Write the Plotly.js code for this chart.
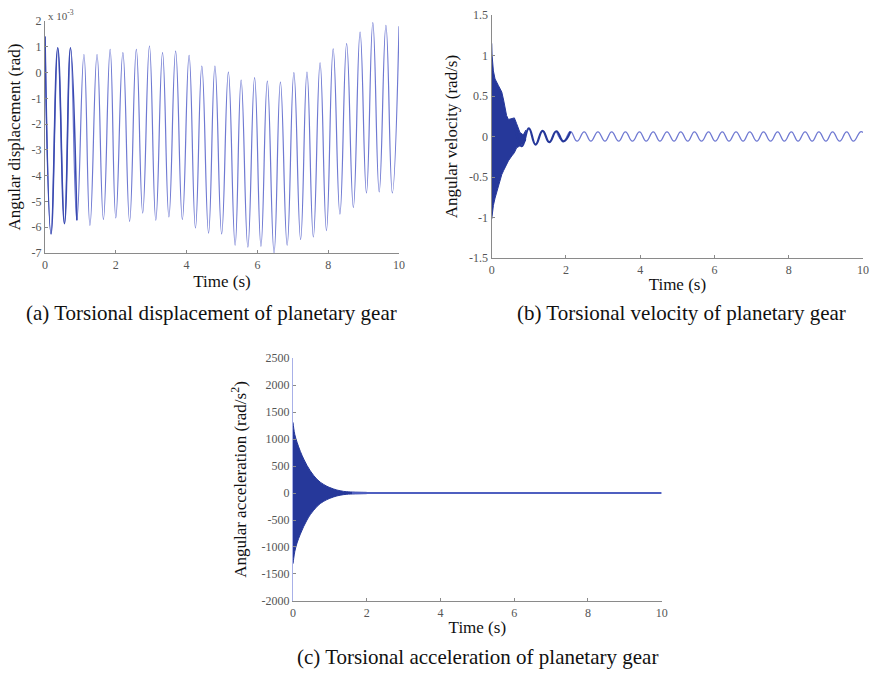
<!DOCTYPE html>
<html>
<head>
<meta charset="utf-8">
<script src="https://cdn.plot.ly/plotly-3.0.1.min.js"></script>
<style>
html,body{margin:0;padding:0;background:#fff;}
#chart{width:872px;height:673px;}
</style>
</head>
<body>
<div id="chart"></div>
<script>
// ---------- (a) angular displacement (x 1e-3 rad): peaks and troughs ----------
const dispT = [0.00, 0.17, 0.36, 0.55, 0.72, 0.90, 1.10, 1.27, 1.47, 1.65, 1.84, 2.00, 2.20, 2.39, 2.58, 2.76, 2.95, 3.13, 3.32, 3.50, 3.69, 3.88, 4.07, 4.25, 4.43, 4.62, 4.80, 4.99, 5.18, 5.37, 5.54, 5.73, 5.92, 6.10, 6.28, 6.47, 6.65, 6.84, 7.03, 7.22, 7.40, 7.58, 7.77, 7.95, 8.14, 8.33, 8.52, 8.71, 8.90, 9.08, 9.26, 9.44, 9.63, 9.81, 10.00];
const dispV = [1.40, -6.26, 0.96, -5.86, 0.96, -5.73, 0.70, -5.93, 0.70, -5.70, 0.90, -5.64, 0.77, -5.77, 0.90, -5.45, 1.03, -5.73, 0.77, -5.60, 0.83, -5.70, 0.67, -6.03, 0.25, -6.23, 0.25, -6.26, 0.02, -6.70, -0.29, -6.77, -0.20, -6.74, -0.33, -7.00, -0.37, -6.70, 0.00, -6.48, 0.02, -6.38, 0.38, -6.13, 0.92, -5.49, 1.12, -5.23, 1.57, -4.67, 1.94, -4.63, 1.83, -4.67, 1.80];

// ---------- (b) angular velocity (rad/s) ----------
// envelope of the dense high-frequency part
const velEnvT  = [0.00, 0.01, 0.045, 0.09, 0.18, 0.27, 0.32, 0.36, 0.40, 0.45, 0.54, 0.61, 0.67, 0.76, 0.85, 0.92];
const velEnvUp = [1.15, 1.00, 0.81, 0.71, 0.63, 0.55, 0.45, 0.37, 0.26, 0.21, 0.22, 0.23, 0.16, 0.05, 0.02, 0.08];
const velEnvLo = [-1.02, -0.98, -0.85, -0.76, -0.60, -0.47, -0.42, -0.38, -0.33, -0.30, -0.24, -0.20, -0.14, -0.11, -0.09, -0.04];
// low-frequency oscillation: peaks and troughs
const velT1 = [0.60, 0.81, 1.00, 1.18, 1.37, 1.55, 1.74, 1.93, 2.12];
const velV1 = [0.20, -0.12, 0.10, -0.10, 0.07, -0.07, 0.065, -0.06, 0.06];
const velT2 = [1.74, 1.93, 2.12, 2.30, 2.49, 2.67, 2.86, 3.05, 3.23, 3.42, 3.60, 3.79, 3.98, 4.16, 4.35, 4.53, 4.72, 4.91, 5.09, 5.28, 5.46, 5.65, 5.84, 6.02, 6.21, 6.39, 6.58, 6.77, 6.95, 7.14, 7.32, 7.51, 7.70, 7.88, 8.07, 8.25, 8.44, 8.63, 8.81, 9.00, 9.18, 9.37, 9.56, 9.74, 9.93, 10.00];
const velV2 = [0.065, -0.06, 0.06, -0.058, 0.058, -0.058, 0.058, -0.058, 0.058, -0.058, 0.058, -0.058, 0.058, -0.058, 0.058, -0.058, 0.058, -0.058, 0.058, -0.058, 0.058, -0.058, 0.058, -0.058, 0.058, -0.058, 0.058, -0.058, 0.058, -0.058, 0.058, -0.058, 0.058, -0.058, 0.058, -0.058, 0.058, -0.058, 0.058, -0.058, 0.058, -0.058, 0.058, -0.058, 0.058, 0.05];

// ---------- (c) angular acceleration (rad/s^2) ----------
const accT  = [0.00, 0.02, 0.05, 0.11, 0.20, 0.29, 0.38, 0.47, 0.56, 0.65, 0.74, 0.83, 0.92, 1.00, 1.10, 1.19, 1.28, 1.37, 1.46, 1.55, 1.70, 1.85, 2.00];
const accUp = [1310, 1200, 1080, 940, 770, 630, 510, 410, 325, 255, 200, 160, 125, 100, 75, 55, 42, 30, 24, 20, 16, 14, 12];
const accLo = [-1310, -1210, -1080, -925, -760, -620, -500, -400, -320, -250, -195, -155, -122, -98, -73, -54, -41, -30, -24, -20, -16, -14, -12];
const accTailT = [1.60, 10.00];
const accTailV = [0, 0];

// ---------- tick labels ----------
const timeTicks = [0, 2, 4, 6, 8, 10];
const timeTickText = ['0', '2', '4', '6', '8', '10'];
const dispTicks = [-7, -6, -5, -4, -3, -2, -1, 0, 1, 2];
const dispTickText = ['-7', '-6', '-5', '-4', '-3', '-2', '-1', '0', '1', '2'];
const velTicks = [-1.5, -1, -0.5, 0, 0.5, 1, 1.5];
const velTickText = ['-1.5', '-1', '-0.5', '0', '0.5', '1', '1.5'];
const accTicks = [-2000, -1500, -1000, -500, 0, 500, 1000, 1500, 2000, 2500];
const accTickText = ['-2000', '-1500', '-1000', '-500', '0', '500', '1000', '1500', '2000', '2500'];

const FONT = "'Liberation Serif', 'Times New Roman', serif";
const lightBlue = '#6f79d2';
const darkBlue = '#26389a';

const traces = [
  {x: dispT, y: dispV, xaxis: 'x', yaxis: 'y', mode: 'lines',
   line: {color: lightBlue, width: 1.2, shape: 'spline', smoothing: 1.3}},
  {x: dispT.slice(0, 6), y: dispV.slice(0, 6), xaxis: 'x', yaxis: 'y', mode: 'lines',
   line: {color: '#3a4ab0', width: 1.6, shape: 'spline', smoothing: 1.3}},

  {x: velEnvT, y: velEnvUp, xaxis: 'x2', yaxis: 'y2', mode: 'lines',
   line: {color: darkBlue, width: 1}},
  {x: velEnvT, y: velEnvLo, xaxis: 'x2', yaxis: 'y2', mode: 'lines', fill: 'tonexty',
   fillcolor: darkBlue, line: {color: darkBlue, width: 1}},
  {x: velT2, y: velV2, xaxis: 'x2', yaxis: 'y2', mode: 'lines',
   line: {color: lightBlue, width: 1.3, shape: 'spline', smoothing: 1.3}},
  {x: velT1, y: velV1, xaxis: 'x2', yaxis: 'y2', mode: 'lines',
   line: {color: darkBlue, width: 2.2, shape: 'spline', smoothing: 1.3}},

  {x: accT, y: accUp, xaxis: 'x3', yaxis: 'y3', mode: 'lines',
   line: {color: darkBlue, width: 1, shape: 'spline'}},
  {x: accT, y: accLo, xaxis: 'x3', yaxis: 'y3', mode: 'lines', fill: 'tonexty',
   fillcolor: darkBlue, line: {color: darkBlue, width: 1, shape: 'spline'}},
  {x: accTailT, y: accTailV, xaxis: 'x3', yaxis: 'y3', mode: 'lines',
   line: {color: '#4f5fc0', width: 1.8}}
];

function xax(domain, anchor, standoff) {
  return {
    domain: domain, anchor: anchor, range: [0, 10],
    tickvals: timeTicks, ticktext: timeTickText,
    showline: true, linecolor: '#8a8a8a', linewidth: 1.2,
    ticks: 'inside', ticklen: 3, tickcolor: '#8a8a8a',
    showgrid: false, zeroline: false,
    tickfont: {family: FONT, size: 12, color: '#555'},
    title: {text: 'Time (s)', font: {family: FONT, size: 17, color: '#111'}, standoff: standoff}
  };
}
function yax(domain, anchor, range, vals, text, title, standoff, lineColor) {
  return {
    domain: domain, anchor: anchor, range: range,
    tickvals: vals, ticktext: text,
    showline: true, linecolor: lineColor || '#8a8a8a', linewidth: 1.2,
    ticks: 'inside', ticklen: 3, tickcolor: '#8a8a8a',
    showgrid: false, zeroline: false,
    tickfont: {family: FONT, size: 12, color: '#555'},
    title: {text: title, font: {family: FONT, size: 17, color: '#111'}, standoff: standoff}
  };
}

const layout = {
  width: 872, height: 673,
  margin: {l: 0, r: 0, t: 0, b: 0},
  paper_bgcolor: '#fff', plot_bgcolor: '#fff',
  showlegend: false,
  font: {family: FONT},
  xaxis: xax([0.0516, 0.4576], 'y', 4),
  yaxis: yax([0.6241, 0.9688], 'x', [-7, 2], dispTicks, dispTickText, 'Angular displacement (rad)', 6),
  xaxis2: xax([0.5639, 0.9897], 'y2', 2),
  yaxis2: yax([0.6166, 0.9777], 'x2', [-1.5, 1.5], velTicks, velTickText, 'Angular velocity (rad/s)', 7),
  xaxis3: xax([0.3360, 0.7588], 'y3', 2),
  yaxis3: yax([0.1070, 0.4680], 'x3', [-2000, 2500], accTicks, accTickText, 'Angular acceleration (rad/s<sup>2</sup>)', 10, '#a8b0e8'),
  annotations: [
    {text: 'x 10<sup>-3</sup>', xref: 'paper', yref: 'paper', x: 46 / 872, y: 1 - 15 / 673,
     xanchor: 'left', yanchor: 'middle', showarrow: false, font: {family: FONT, size: 11, color: '#555'}},
    {text: '(a) Torsional displacement of planetary gear', xref: 'paper', yref: 'paper',
     x: 211 / 872, y: 1 - 313 / 673, xanchor: 'center', yanchor: 'middle', showarrow: false,
     font: {family: FONT, size: 21, color: '#111'}},
    {text: '(b) Torsional velocity of planetary gear', xref: 'paper', yref: 'paper',
     x: 681 / 872, y: 1 - 313 / 673, xanchor: 'center', yanchor: 'middle', showarrow: false,
     font: {family: FONT, size: 21, color: '#111'}},
    {text: '(c) Torsional acceleration of planetary gear', xref: 'paper', yref: 'paper',
     x: 477 / 872, y: 1 - 657 / 673, xanchor: 'center', yanchor: 'middle', showarrow: false,
     font: {family: FONT, size: 21, color: '#111'}}
  ]
};

Plotly.newPlot('chart', traces, layout, {staticPlot: true, displayModeBar: false});
</script>
</body>
</html>
